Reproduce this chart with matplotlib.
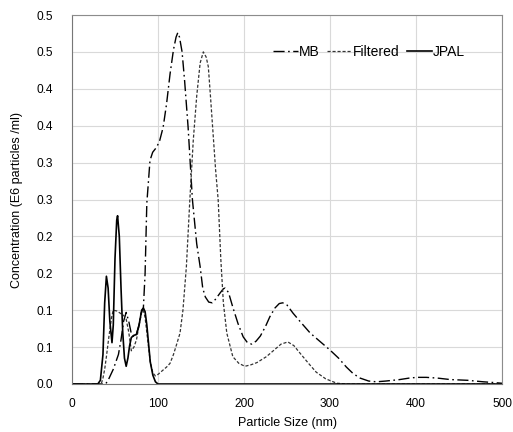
import matplotlib.pyplot as plt
import numpy as np

plt.rcParams['font.family'] = ['Liberation Sans', 'DejaVu Sans']

# MB (dash-dot)
mb_x = [0, 39, 42, 44, 48, 51, 54, 57, 60, 63, 66, 69, 72, 75, 78, 80, 83, 85, 87,
        90.7, 93.8, 98.5, 102, 106, 110, 114, 118, 121, 123, 125, 128, 131, 135, 140,
        145, 149, 152, 155, 159, 163, 167, 172, 176, 178, 182, 187, 193, 199, 204, 209,
        214, 219, 225, 230, 236, 241, 245, 250, 257, 265, 277, 290, 300, 310, 319, 327,
        335, 345, 354, 365, 381, 392, 401, 412, 425, 440, 460, 478, 490, 500]
mb_y = [0, 0, 0.005, 0.01, 0.02, 0.03, 0.04, 0.06, 0.085, 0.097, 0.085, 0.068, 0.064,
        0.068, 0.08, 0.095, 0.103, 0.15, 0.245, 0.303, 0.314, 0.321, 0.33, 0.348, 0.38,
        0.42, 0.453, 0.47, 0.476, 0.47, 0.45, 0.41, 0.348, 0.25, 0.19, 0.159, 0.13,
        0.118, 0.111, 0.11, 0.115, 0.123, 0.129, 0.13, 0.124, 0.104, 0.082, 0.064,
        0.056, 0.054, 0.058, 0.065, 0.078, 0.091, 0.103, 0.109, 0.11, 0.107, 0.096,
        0.085, 0.069, 0.056, 0.046, 0.035, 0.023, 0.014, 0.008, 0.004, 0.003, 0.004,
        0.006, 0.008, 0.009, 0.009, 0.008, 0.006, 0.005, 0.003, 0.002, 0.001]

# Filtered (short dash)
filt_x = [0, 34, 36, 38, 40, 43, 46, 48, 52, 56, 60, 63, 66, 69, 72, 75, 78, 81, 83,
          85, 88, 91, 94, 97, 100, 105, 110, 114, 118, 122, 125.6, 129, 133, 137, 141,
          145, 149, 152.7, 156, 158.5, 161, 164, 167, 170, 173, 176, 180, 187, 194, 201,
          208, 215, 226, 235, 243, 251, 258, 265, 275, 284, 295, 308, 320, 500]
filt_y = [0, 0, 0.008, 0.02, 0.037, 0.065, 0.09, 0.1, 0.099, 0.096, 0.093, 0.088, 0.07,
          0.045, 0.05, 0.06, 0.08, 0.097, 0.1, 0.09, 0.06, 0.03, 0.015, 0.011, 0.013,
          0.018, 0.023, 0.028, 0.04, 0.055, 0.069, 0.1, 0.159, 0.249, 0.33, 0.39, 0.435,
          0.45, 0.443, 0.43, 0.39, 0.34, 0.29, 0.249, 0.17, 0.11, 0.069, 0.037, 0.028,
          0.024, 0.026, 0.029, 0.037, 0.046, 0.054, 0.057, 0.052, 0.042, 0.028, 0.016,
          0.007, 0.001, 0, 0]

# JPAL (solid)
jpal_x = [0, 30, 33, 36, 38, 40, 42, 44, 46.5, 48, 50, 52, 53, 55, 57, 59, 61, 63, 65,
          67, 69, 72, 75, 78, 81, 83, 85, 87, 89, 91, 94, 97, 100, 500]
jpal_y = [0, 0, 0.005, 0.04, 0.11, 0.146, 0.13, 0.085, 0.056, 0.08, 0.17, 0.222, 0.228,
          0.2, 0.13, 0.07, 0.035, 0.024, 0.035, 0.052, 0.063, 0.066, 0.067, 0.08, 0.1,
          0.103, 0.098, 0.08, 0.055, 0.03, 0.012, 0.003, 0, 0]

# Excel-style labels: 0.05 steps shown with one decimal (round half up)
y_ticks = np.arange(0, 0.5001, 0.05)
y_labels = [f"{np.floor(v * 10 + 0.5 + 1e-9) / 10:.1f}" for v in y_ticks]
x_ticks = [0, 100, 200, 300, 400, 500]

fig = plt.figure(figsize=(5.13, 4.32), dpi=100)
ax = fig.add_axes([72 / 513, 1 - 384 / 432, 430 / 513, 369 / 432])

ax.plot(mb_x, mb_y, color='black', lw=1.0, linestyle=(0, (8, 2.5, 1.2, 2.5)), label='MB')
ax.plot(filt_x, filt_y, color='#333333', lw=0.9, linestyle=(0, (2.5, 1.5)), label='Filtered')
ax.plot(jpal_x, jpal_y, color='black', lw=1.2, linestyle='-', label='JPAL')

ax.set_xlim(0, 500)
ax.set_ylim(0, 0.5)
ax.set_xticks(x_ticks)
ax.set_yticks(y_ticks)
ax.set_yticklabels(y_labels)
ax.tick_params(length=0, labelsize=8.6, pad=10)
ax.tick_params(axis='y', pad=14)
ax.grid(True, color='#d9d9d9', lw=0.8)
ax.set_axisbelow(True)
for s in ['top', 'right']:
    ax.spines[s].set_color('#8c8c8c')
for s in ['left', 'bottom']:
    ax.spines[s].set_color('#777777')

ax.set_xlabel('Particle Size (nm)', fontsize=9)
ax.set_ylabel('Concentration (E6 particles /ml)', fontsize=9)
ax.xaxis.set_label_coords(0.5, -0.09)
ax.yaxis.set_label_coords(-0.114, 0.5)

ax.legend(ncol=3, frameon=False, fontsize=10, loc='center left',
          bbox_to_anchor=(0.467, 0.9), borderpad=0, borderaxespad=0,
          handlelength=1.8, handletextpad=0.1, columnspacing=0.5)

fig.savefig('out.png', dpi=100)
